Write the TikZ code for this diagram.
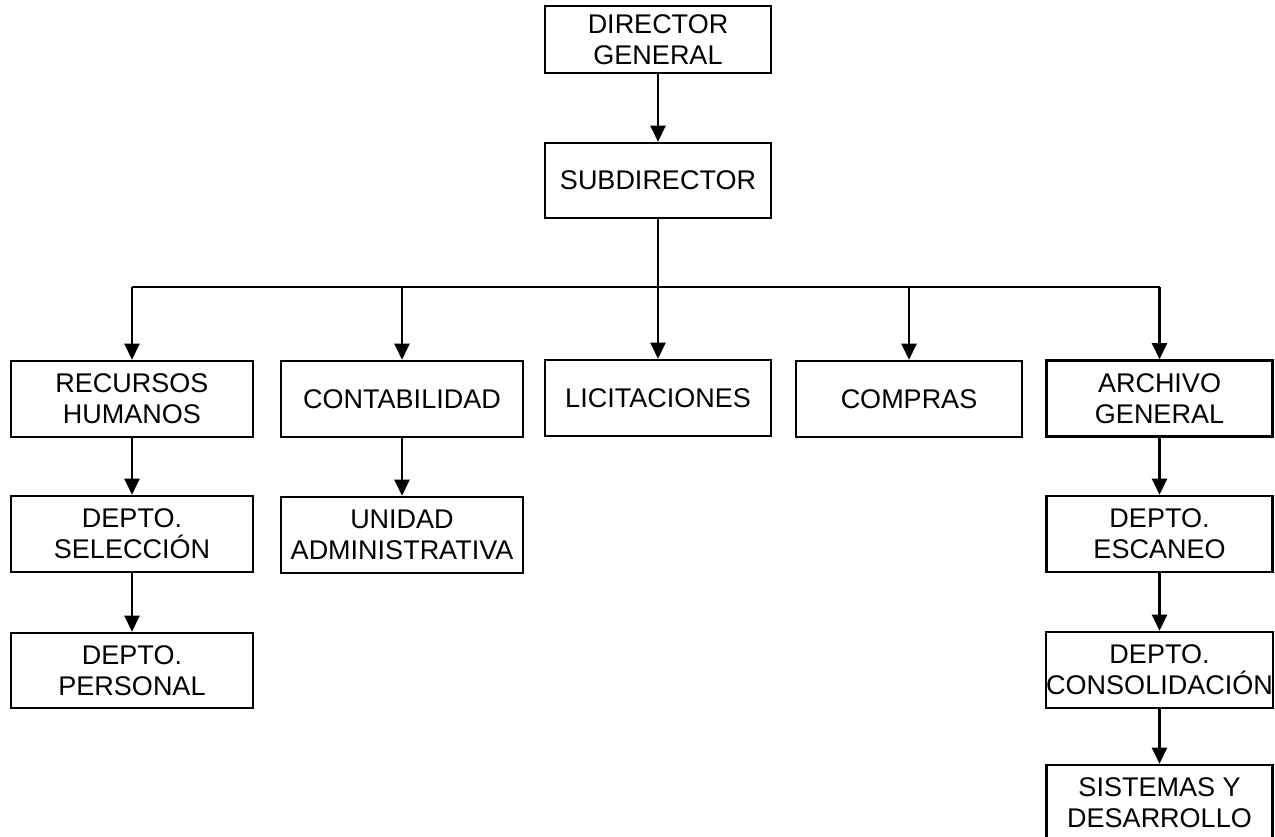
\documentclass[tikz,border=0pt]{standalone}
\usepackage{fontspec}
\setmainfont{Liberation Sans}
\usetikzlibrary{arrows.meta}
\tikzset{
  orgbox/.style={draw=black, line width=2.6pt, fill=white, align=center, inner sep=0pt,
    font=\fontsize{27}{31}\selectfont},
  arr/.style={line width=2.4pt, -{Triangle[width=15pt,length=16pt]}},
  plain/.style={line width=2.4pt}
}
\begin{document}
\begin{tikzpicture}[x=1pt,y=-1pt]
\useasboundingbox (0,0) rectangle (1275,836);
\node[orgbox, minimum width=226pt, minimum height=67pt] (dg) at (658,39.5) {DIRECTOR\\GENERAL};
\node[orgbox, minimum width=226pt, minimum height=75pt] (sub) at (658,180.5) {SUBDIRECTOR};
\node[orgbox, minimum width=242pt, minimum height=76pt] (rh) at (132,399) {RECURSOS\\HUMANOS};
\node[orgbox, minimum width=242pt, minimum height=76pt] (con) at (402,399) {CONTABILIDAD};
\node[orgbox, minimum width=226pt, minimum height=76pt] (lic) at (658,398) {LICITACIONES};
\node[orgbox, minimum width=226pt, minimum height=76pt] (com) at (909,399) {COMPRAS};
\node[orgbox, minimum width=226pt, minimum height=76pt] (arc) at (1159.5,398.5) {ARCHIVO\\GENERAL};
\node[orgbox, minimum width=242pt, minimum height=76pt] (sel) at (132,534) {DEPTO.\\SELECCIÓN};
\node[orgbox, minimum width=242pt, minimum height=76pt] (uni) at (402,535) {UNIDAD\\ADMINISTRATIVA};
\node[orgbox, minimum width=242pt, minimum height=75pt] (per) at (132,670.5) {DEPTO.\\PERSONAL};
\node[orgbox, minimum width=226pt, minimum height=76pt] (esc) at (1159.5,534) {DEPTO.\\ESCANEO};
\node[orgbox, minimum width=227pt, minimum height=76pt] (cons) at (1159.5,670) {DEPTO.\\CONSOLIDACIÓN};
\node[orgbox, minimum width=226pt, minimum height=76pt] (sis) at (1159.5,803) {SISTEMAS Y\\DESARROLLO};
\coordinate (hub) at (658,287);
\coordinate (hubend) at (658,296);
\draw[arr] (dg.south) -- (sub.north);
\draw[plain] (sub.south) -- (hubend);
\draw[plain] (rh.north |- hub) -- (arc.north |- hub);
\foreach \n in {rh,con,lic,com,arc} \draw[arr] (\n.north |- hub) -- (\n.north);
\draw[arr] (rh.south) -- (sel.north);
\draw[arr] (sel.south) -- (per.north);
\draw[arr] (con.south) -- (uni.north);
\draw[arr] (arc.south) -- (esc.north);
\draw[arr] (esc.south) -- (cons.north);
\draw[arr] (cons.south) -- (sis.north);
\end{tikzpicture}
\end{document}
